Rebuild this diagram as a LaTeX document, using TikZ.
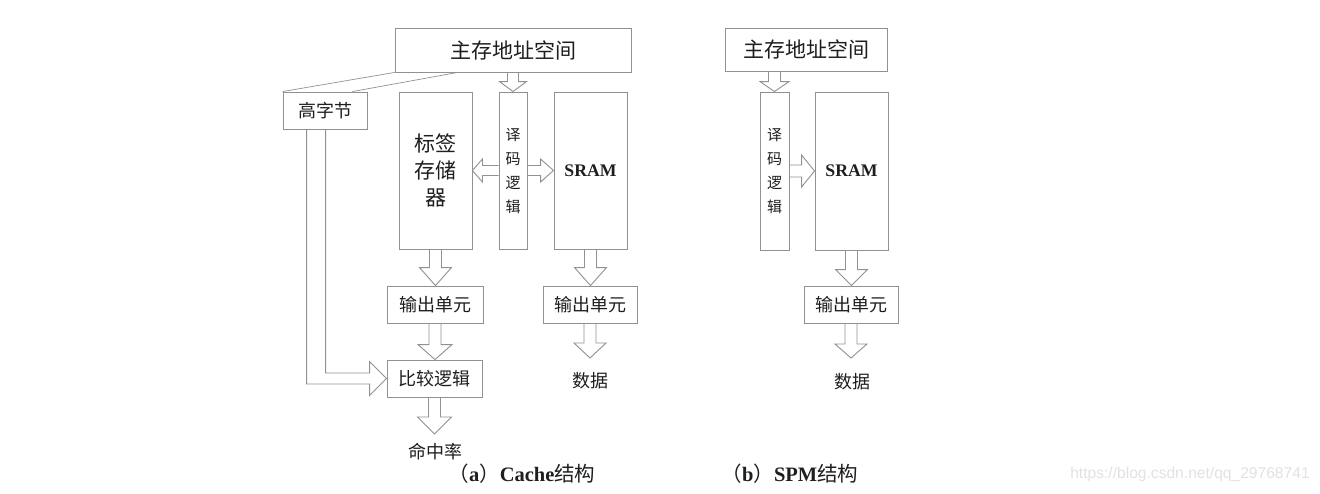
\documentclass[tikz,border=0pt]{standalone}
\usepackage{fontspec}
\setmainfont{Liberation Serif}
\newfontfamily\cjk{Noto Sans CJK SC}
\newfontfamily\wmfont{Liberation Sans}
\usetikzlibrary{calc}
\definecolor{bxc}{RGB}{145,145,145}
\definecolor{txc}{RGB}{30,30,30}
\definecolor{wmc}{RGB}{226,226,226}
% block arrows: #1 start, #2 end, #3 shaft half width, #4 head half width, #5 head length
\newcommand{\blkDown}[5]{\draw[blk] let \p1=(#1), \p2=(#2) in (\x1-#3pt,\y1) -- (\x1-#3pt,\y2+#5pt) -- (\x1-#4pt,\y2+#5pt) -- (\x1,\y2) -- (\x1+#4pt,\y2+#5pt) -- (\x1+#3pt,\y2+#5pt) -- (\x1+#3pt,\y1);}
\newcommand{\blkLeft}[5]{\draw[blk] let \p1=(#1), \p2=(#2) in (\x1,\y1+#3pt) -- (\x2+#5pt,\y1+#3pt) -- (\x2+#5pt,\y1+#4pt) -- (\x2,\y1) -- (\x2+#5pt,\y1-#4pt) -- (\x2+#5pt,\y1-#3pt) -- (\x1,\y1-#3pt);}
\newcommand{\blkRight}[5]{\draw[blk] let \p1=(#1), \p2=(#2) in (\x1,\y1+#3pt) -- (\x2-#5pt,\y1+#3pt) -- (\x2-#5pt,\y1+#4pt) -- (\x2,\y1) -- (\x2-#5pt,\y1-#4pt) -- (\x2-#5pt,\y1-#3pt) -- (\x1,\y1-#3pt);}
\begin{document}
\begin{tikzpicture}[x=1pt,y=-1pt,
  box/.style={draw=bxc, line width=0.9pt, inner sep=0pt, text=txc, align=center},
  blk/.style={draw=bxc, line width=0.9pt, line join=miter},
  thinln/.style={draw=bxc, line width=0.7pt},
  lbl/.style={inner sep=0pt, text=txc, font=\cjk\fontsize{18}{18}\selectfont},
  big/.style={font=\cjk\fontsize{21}{21}\selectfont},
  mid/.style={font=\cjk\fontsize{18}{18}\selectfont}]
\fill[white] (0,0) rectangle (1320,493);
\useasboundingbox (0,0) rectangle (1320,493);

% ---------- (a) Cache ----------
\node[box,big,minimum width=236pt,minimum height=44pt] (memA) at (513,50) {主存地址空间};
\node[box,mid,minimum width=84pt,minimum height=37pt] (hb) at (325,110.5) {高字节};
\node[box,font=\cjk\fontsize{21}{27}\selectfont,minimum width=73pt,minimum height=157pt] (tag) at (435.5,170.5) {标签\\存储\\器};
\node[box,font=\cjk\fontsize{15}{24}\selectfont,minimum width=28pt,minimum height=157pt] (decA) at (513,170.5) {译\\码\\逻\\辑};
\node[box,font=\bfseries\fontsize{17.7}{18}\selectfont,minimum width=73pt,minimum height=157pt] (sramA) at (590.5,170.5) {SRAM};
\node[box,mid,minimum width=96pt,minimum height=37pt] (outA1) at (435,304.5) {输出单元};
\node[box,mid,minimum width=94pt,minimum height=37pt] (outA2) at (590,304.5) {输出单元};
\node[box,mid,minimum width=95pt,minimum height=37pt] (cmp) at (434.5,378.5) {比较逻辑};
\node[lbl] (hit) at (435,452) {命中率};
\node[lbl] (dataA) at (590,381) {数据};
\coordinate (hitTip) at (434.5,434);
\coordinate (dataATip) at (590,358);
\node[inner sep=0pt,text=txc,font=\fontsize{20.5}{21}\selectfont] (capA) at (522,474) {{\cjk （}\textbf{a}{\cjk ）}\textbf{Cache}{\cjk 结构}};

\draw[thinln] (memA.south west) -- (hb.north west);
\draw[thinln] ($(memA.south west)+(63,0)$) -- ($(hb.north east)+(-15,0)$);

\blkDown{memA.south -| decA.north}{decA.north}{5.5}{13.5}{10}
\blkLeft{decA.west}{tag.east}{5}{11.5}{10}
\blkRight{decA.east}{sramA.west}{5}{11.5}{13}
\blkDown{tag.south}{outA1.north}{6}{16}{18}
\blkDown{sramA.south}{outA2.north}{6}{16}{18}
\blkDown{outA1.south}{cmp.north}{6}{17}{15}
\blkDown{cmp.south}{hitTip}{6}{17}{17}
\blkDown{outA2.south}{dataATip}{6}{16}{15}

% L-shaped arrow from high byte to compare logic
\draw[blk] let \p1=(hb.south west), \p2=(cmp.west) in
  (\x1+24pt,\y1) -- (\x1+24pt,\y2-5.5pt) -- (\x2-17pt,\y2-5.5pt) -- (\x2-17pt,\y2-17pt)
  -- (\x2,\y2) -- (\x2-17pt,\y2+17pt) -- (\x2-17pt,\y2+5.5pt) -- (\x1+43pt,\y2+5.5pt) -- (\x1+43pt,\y1);

% ---------- (b) SPM ----------
\node[box,big,minimum width=162pt,minimum height=43pt] (memB) at (806,49.5) {主存地址空间};
\node[box,font=\cjk\fontsize{15}{24}\selectfont,minimum width=29pt,minimum height=158pt] (decB) at (774.5,171) {译\\码\\逻\\辑};
\node[box,font=\bfseries\fontsize{17.7}{18}\selectfont,minimum width=73pt,minimum height=158pt] (sramB) at (851.5,171) {SRAM};
\node[box,mid,minimum width=94pt,minimum height=37pt] (outB) at (851,304.5) {输出单元};
\node[lbl] (dataB) at (852,382) {数据};
\coordinate (dataBTip) at (851,358);
\node[inner sep=0pt,text=txc,font=\fontsize{20.5}{21}\selectfont] (capB) at (790,474) {{\cjk （}\textbf{b}{\cjk ）}\textbf{SPM}{\cjk 结构}};

\blkDown{memB.south -| decB.north}{decB.north}{6}{14.5}{10}
\blkRight{decB.east}{sramB.west}{6}{16}{13}
\blkDown{sramB.south}{outB.north}{6}{16}{16}
\blkDown{outB.south}{dataBTip}{6}{16}{14}

% watermark
\node[inner sep=0pt,text=wmc,font=\wmfont\fontsize{15.6}{16}\selectfont] (wm) at (1190,474) {https://blog.csdn.net/qq\_29768741};
\end{tikzpicture}
\end{document}
